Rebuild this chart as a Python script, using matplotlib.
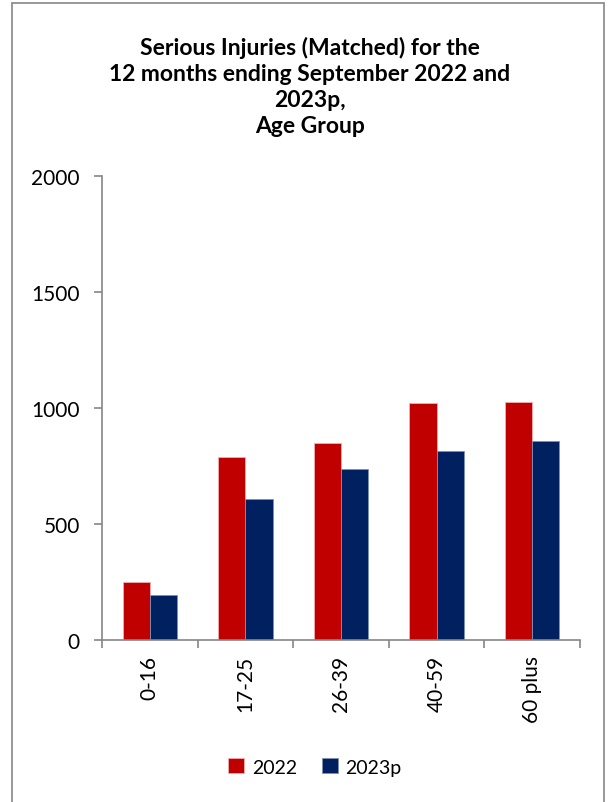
import numpy as np
import matplotlib
matplotlib.use('Agg')
import matplotlib.pyplot as plt
from matplotlib.patches import Rectangle

# Serious injuries by age group
age_groups = ['0-16', '17-25', '26-39', '40-59', '60 plus']
values_2022 = [250, 790, 849, 1020, 1026]
values_2023p = [195, 608, 737, 813, 856]
series_labels = ['2022', '2023p']
y_ticks = [0, 500, 1000, 1500, 2000]

red = '#C00000'
navy = '#002060'
grey = '#868686'

plt.rcParams['font.family'] = ['Lato', 'DejaVu Sans']

fig = plt.figure(figsize=(6.09, 8.03), dpi=100)
# outer chart border
fig.patches.append(Rectangle((12 / 609, -0.01), 592 / 609, 1 - 4 / 803 + 0.01,
                             transform=fig.transFigure, fill=False,
                             edgecolor=grey, linewidth=1.2))

ax = fig.add_axes([102 / 609, 162 / 803, 478 / 609, 464 / 803])

x = np.arange(len(age_groups))
w = 0.285
ax.bar(x - w / 2, values_2022, w, color=red, edgecolor='#f2b0b0', linewidth=0.6, label=series_labels[0])
ax.bar(x + w / 2, values_2023p, w, color=navy, edgecolor='#8090b0', linewidth=0.6, label=series_labels[1])

ax.set_xlim(-0.5, len(age_groups) - 0.5)
ax.set_ylim(0, 2000)
ax.set_yticks(y_ticks)
ax.set_yticklabels([str(t) for t in y_ticks], fontsize=15)

# category ticks sit between groups, labels at centers
ax.set_xticks(np.arange(-0.5, len(age_groups), 1.0))
ax.set_xticklabels([])
ax.set_xticks(x, minor=True)
ax.set_xticklabels(age_groups, minor=True, rotation=90, fontsize=15)
ax.tick_params(axis='x', which='minor', length=0, pad=11)
ax.tick_params(axis='x', which='major', length=6, width=1.2, color=grey, direction='out')
ax.tick_params(axis='y', length=6, width=1.2, color=grey, direction='out', pad=10)

for s in ['top', 'right']:
    ax.spines[s].set_visible(False)
for s in ['left', 'bottom']:
    ax.spines[s].set_color(grey)
    ax.spines[s].set_linewidth(1.2)

fig.text(310 / 609, 1 - 87 / 803,
         'Serious Injuries (Matched) for the\n12 months ending September 2022 and\n2023p,\nAge Group',
         ha='center', va='center', fontsize=16.5, fontweight='bold', linespacing=1.3)

ax.legend(loc='center', bbox_to_anchor=(315 / 609, 1 - 768 / 803), bbox_transform=fig.transFigure,
          ncol=2, frameon=False, fontsize=14, handlelength=0.8, handleheight=0.8,
          handletextpad=0.4, columnspacing=1.3)

fig.savefig('out.png', dpi=100)
